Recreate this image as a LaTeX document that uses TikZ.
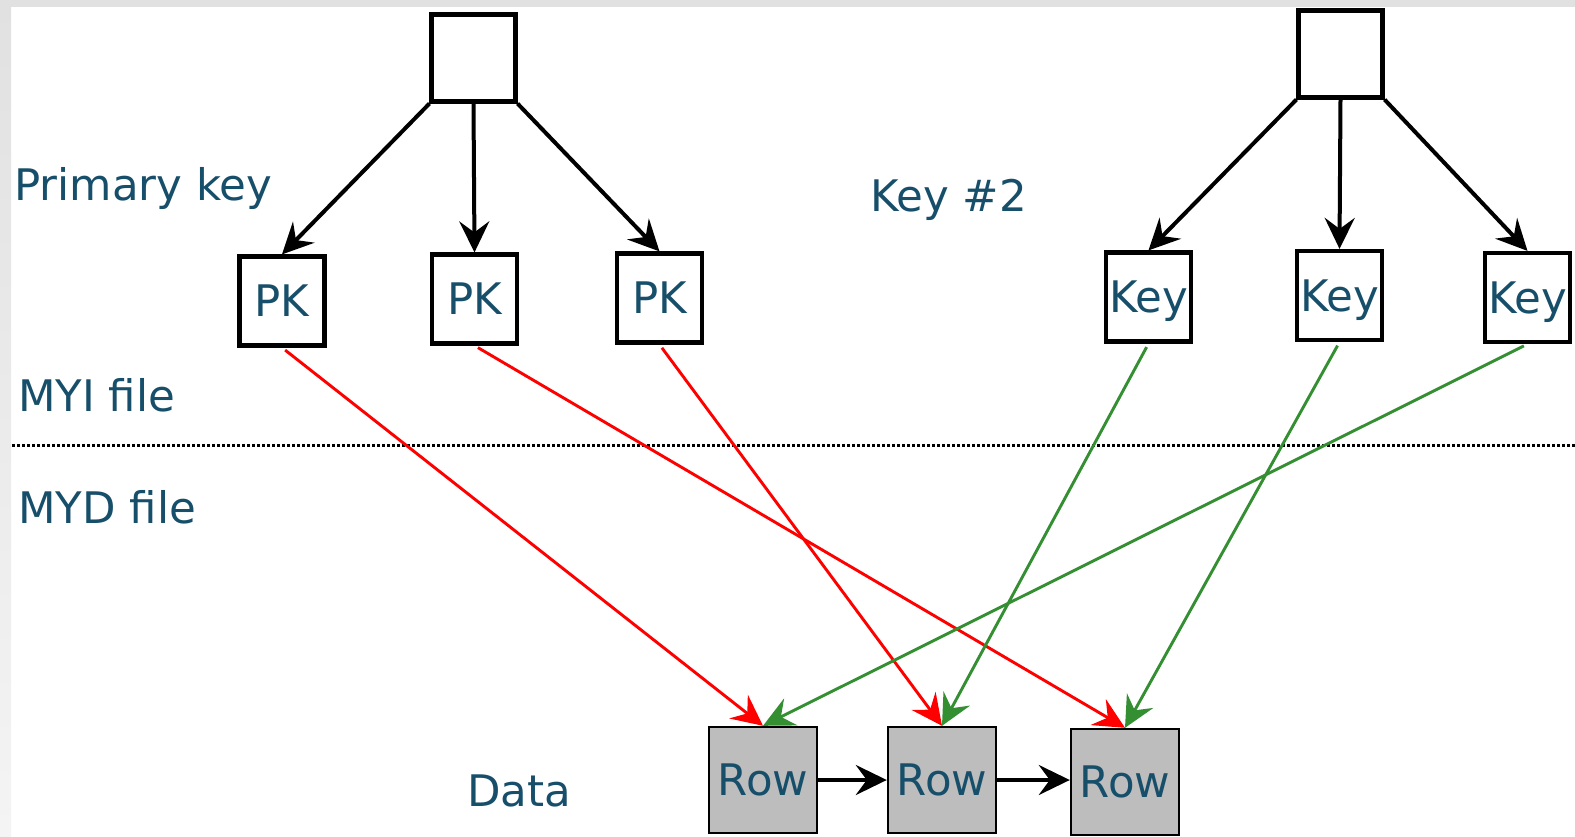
\documentclass[tikz,border=0pt]{standalone}
\usepackage{fontspec}
\setmainfont{DejaVu Sans}
\usetikzlibrary{arrows.meta,calc}
\definecolor{labelblue}{RGB}{23,79,107}
\definecolor{linkred}{RGB}{255,0,0}
\definecolor{linkgreen}{RGB}{52,142,50}
\definecolor{rowgray}{RGB}{189,189,189}
\definecolor{framegray}{RGB}{225,225,225}

\begin{document}
\begin{tikzpicture}[x=1pt,y=-1pt,
  every node/.style={font=\fontsize{43.5}{52}\selectfont, text=labelblue},
  label/.style={anchor=base west, inner sep=0pt},
  keybox/.style={draw=black, line width=4.2pt, fill=white, inner sep=0pt,
    text height=31.5pt, text depth=0pt},
  rootbox/.style={keybox, minimum width=84pt, minimum height=87pt},
  leafbox/.style={keybox, minimum width=85pt, minimum height=89pt},
  rowbox/.style={draw=black, line width=2.4pt, fill=rowgray, inner sep=0pt,
    minimum width=108pt, minimum height=106pt, text height=31.5pt, text depth=0pt},
  tree/.style={draw=black, line width=4pt,
    -{Stealth[length=31pt,width=30pt,inset=11pt]}},
  link/.style={line width=2.9pt, shorten <=4pt,
    -{Stealth[length=31pt,width=30pt,inset=11pt]}},
  separator/.style={draw=black, line width=3pt, dash pattern=on 3pt off 2pt}
]
% canvas and frame
\useasboundingbox (0,0) rectangle (1575,836);
\fill[white] (0,0) rectangle (1575,836);
\fill[framegray] (0,0) rectangle (1575,7);
\shade[top color=framegray, bottom color={rgb,255:red,244;green,244;blue,244}]
  (0,0) rectangle (11,836);

% section labels
\node[label] (lpk)   at (14,200)  {Primary key};
\node[label] (lk2)   at (870,211) {Key \#2};
\node[label] (lmyi)  at (18,411)  {MYI file};
\node[label] (lmyd)  at (18,523)  {MYD file};
\node[label] (ldata) at (467,806) {Data};

% file boundary
\coordinate (sepL) at (12,445);
\coordinate (sepR) at (1575,445);
\draw[separator] (sepL) -- (sepR);

% primary key index
\node[rootbox] (r1) at (473.5,58) {};
\node[leafbox] (pk1) at (282,301)   {PK};
\node[leafbox] (pk2) at (474.5,299) {PK};
\node[leafbox] (pk3) at (659.5,298) {PK};

% secondary key index
\node[rootbox] (r2) at (1340.5,54) {};
\node[leafbox] (k1) at (1148.5,297) {Key};
\node[leafbox] (k2) at (1339.5,295.5) {Key};
\node[leafbox] (k3) at (1527.5,297.5) {Key};

% data rows
\node[rowbox] (row1) at (763,780)  {Row};
\node[rowbox] (row2) at (942,780)  {Row};
\node[rowbox] (row3) at (1125,782) {Row};

% tree edges
\draw[tree] (r1.south west) -- (pk1.north);
\draw[tree] (r1.south) -- (pk2.north);
\draw[tree] (r1.south east) -- (pk3.north);
\draw[tree] (r2.south west) -- (k1.north);
\draw[tree] (r2.south) -- (k2.north);
\draw[tree] (r2.south east) -- (k3.north);

% row chain
\draw[tree] (row1.east) -- (row2.west);
\draw[tree] (row2.east) -- (row2.east -| row3.west);

% primary key pointers
\draw[link, linkred] (pk1.south) -- (row1.north);
\draw[link, linkred] (pk2.south) -- (row3.north);
\draw[link, linkred] (pk3.south) -- (row2.north);

% secondary key pointers
\draw[link, linkgreen] (k1.south) -- (row2.north);
\draw[link, linkgreen] (k2.south) -- (row3.north);
\draw[link, linkgreen] (k3.south) -- (row1.north);
\end{tikzpicture}
\end{document}
